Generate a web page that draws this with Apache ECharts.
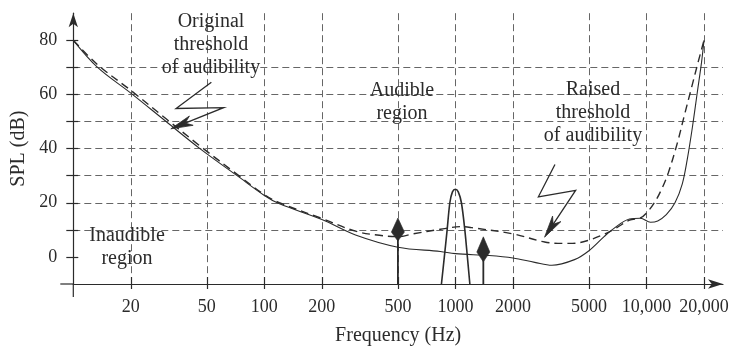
<!DOCTYPE html>
<html>
<head>
<meta charset="utf-8">
<script src="https://cdn.jsdelivr.net/npm/echarts@6/dist/echarts.min.js"></script>
<style>
  html, body { margin: 0; background: #fff; }
  #chart { width: 732px; height: 351px; }
</style>
</head>
<body>
<div id="chart"></div>
<script>
// axis ticks
const freqTicks = [20, 50, 100, 200, 500, 1000, 2000, 5000, 10000, 20000];
const splTicks = [0, 10, 20, 30, 40, 50, 60, 70, 80];
const splLabels = [0, 20, 40, 60, 80];

// original threshold of audibility (solid)
const originalFreq = [10, 13.4, 20, 30.6, 46, 72, 100, 120, 200, 300, 500, 834, 1000, 1500, 2000, 2600, 3200, 4200, 5000, 6000, 6600, 8150, 9300, 10500, 11450, 12700, 14100, 15400, 16400, 17460, 18470, 19430, 20000];
const originalSpl = [80, 70, 60.5, 50, 40, 30, 22.7, 19.6, 13.8, 8.1, 3.6, 2, 1.2, 0.5, -0.4, -2, -3.1, -1, 2.3, 7.5, 10, 14, 14.3, 12.8, 13.3, 15.6, 20, 27, 36.6, 48.7, 61, 72, 80];

// raised threshold of audibility (dashed)
const raisedFreq = [10, 13.4, 20, 30.6, 46, 72, 100, 120, 200, 300, 400, 500, 600, 834, 1073, 1220, 2000, 2930, 3650, 4100, 5000, 6060, 7000, 8150, 9300, 10000, 11000, 12000, 13000, 14500, 15750, 17140, 18650, 20000];
const raisedSpl = [80, 71, 61.5, 51, 41, 30.5, 23, 20, 14.2, 9.5, 8, 7.5, 8.5, 10.2, 11.2, 10.8, 8.5, 5.5, 5, 5, 6.2, 8.5, 10.8, 13.6, 14.4, 16.2, 20, 25, 31, 42, 52, 62, 72, 80];

// narrowband masker around 1 kHz
const maskerFreq = [845, 875, 905, 935, 965, 1000, 1035, 1075, 1120, 1155, 1190];
const maskerSpl = [-10, 0, 10, 20, 24, 25, 24, 20, 10, 0, -10];

// tones (kite centre level)
const toneFreq = [500, 1400];
const toneSpl = [10.1, 2.8];
const toneHeight = [23, 25];

// lightning pointers [freq, dB]
const boltOriginal = [[52.8, 64.5], [34.5, 54.8], [61.2, 55.1], [32.4, 47.3]];
const boltRaised = [[3319, 34.1], [2718, 22.2], [4259, 24.6], [2929, 7.3]];

const ink = "#2b2b2b";
const gridColor = "#666";
const font = '"Liberation Serif", "DejaVu Serif", serif';

const pair = (xs, ys) => xs.map((x, i) => [x, ys[i]]);
const withCommas = (v) => (v >= 10000 ? String(v).replace(/\B(?=(\d{3})+(?!\d))/g, ",") : String(v));

const chart = echarts.init(document.getElementById("chart"), null, { renderer: "canvas" });

const xCommon = {
  type: "log",
  logBase: 10,
  min: 10,
  max: 25150,
  position: "bottom",
};
const yCommon = {
  type: "value",
  min: -10,
  max: 90,
  interval: 10,
  position: "left",
};

const series = [
  {
    name: "original",
    type: "line",
    data: pair(originalFreq, originalSpl),
    smooth: 0.35,
    showSymbol: false,
    lineStyle: { color: ink, width: 1.1 },
    z: 5,
  },
  {
    name: "raised",
    type: "line",
    data: pair(raisedFreq, raisedSpl),
    smooth: 0.35,
    showSymbol: false,
    lineStyle: { color: ink, width: 1.4, type: [8, 5] },
    z: 4,
  },
  {
    name: "masker",
    type: "line",
    data: pair(maskerFreq, maskerSpl),
    smooth: 0.3,
    showSymbol: false,
    lineStyle: { color: ink, width: 1.6 },
    z: 5,
  },
];

toneFreq.forEach((f, i) => {
  series.push({
    type: "line",
    data: [[f, -10], [f, toneSpl[i]]],
    showSymbol: false,
    lineStyle: { color: ink, width: 1.8 },
    z: 6,
  });
  series.push({
    type: "scatter",
    data: [[f, toneSpl[i]]],
    symbol: "path://M6 0 L12 14 L6 23 L0 14 Z",
    symbolSize: [13, toneHeight[i]],
    symbolKeepAspect: false,
    itemStyle: { color: ink, opacity: 1, borderColor: ink, borderWidth: 0.6 },
    z: 7,
  });
});

chart.setOption({
  backgroundColor: "#fff",
  animation: false,
  textStyle: { fontFamily: font, color: ink },
  grid: { left: 73.3, right: 9, top: 13.2, bottom: 62.8 },
  xAxis: [
    {
      ...xCommon,
      name: "Frequency (Hz)",
      nameLocation: "middle",
      nameGap: 42,
      nameTextStyle: { fontFamily: font, fontSize: 20, color: ink },
      axisLine: { onZero: false, lineStyle: { color: ink, width: 1.2 }, symbol: ["none", "arrow"], symbolSize: [7, 15] },
      axisTick: { customValues: freqTicks, inside: true, length: 7, lineStyle: { color: ink, width: 1.2 } },
      axisLabel: {
        customValues: freqTicks,
        margin: 14,
        fontFamily: font,
        fontSize: 18,
        color: ink,
        formatter: withCommas,
      },
      splitLine: { show: true, lineStyle: { color: gridColor, width: 1, type: [7, 4] } },
    },
    {
      ...xCommon,
      axisLine: { show: false, onZero: false },
      axisTick: { customValues: freqTicks, inside: false, length: 5, lineStyle: { color: ink, width: 1.2 } },
      axisLabel: { show: false },
      splitLine: { show: false },
    },
  ],
  yAxis: [
    {
      ...yCommon,
      name: "SPL (dB)",
      nameLocation: "middle",
      nameGap: 43,
      nameTextStyle: { fontFamily: font, fontSize: 20, color: ink },
      axisLine: { onZero: false, lineStyle: { color: ink, width: 1.2 }, symbol: ["none", "arrow"], symbolSize: [7, 14] },
      axisTick: { customValues: splTicks, inside: false, length: 7, lineStyle: { color: ink, width: 1.2 } },
      axisLabel: { customValues: splLabels, margin: 16, fontFamily: font, fontSize: 18, color: ink },
      splitLine: { show: true, showMinLine: false, showMaxLine: false, lineStyle: { color: gridColor, width: 1, type: [7, 4] } },
    },
    {
      ...yCommon,
      axisLine: { show: false, onZero: false },
      axisTick: { customValues: splTicks, inside: true, length: 5, lineStyle: { color: ink, width: 1.2 } },
      axisLabel: { show: false },
      splitLine: { show: false },
    },
  ],
  series,
});

// annotations drawn from data coordinates
const toPx = (p) => chart.convertToPixel({ xAxisIndex: 0, yAxisIndex: 0 }, p);

function bolt(points) {
  const px = points.map(toPx);
  const tip = px[px.length - 1];
  const prev = px[px.length - 2];
  const dx = tip[0] - prev[0];
  const dy = tip[1] - prev[1];
  const len = Math.hypot(dx, dy);
  const ux = dx / len;
  const uy = dy / len;
  const nx = -uy;
  const ny = ux;
  const L = 22;
  const W = 5;
  const neck = [tip[0] - ux * L * 0.7, tip[1] - uy * L * 0.7];
  const line = px.slice(0, -1).concat([neck]);
  return [
    {
      type: "polyline",
      shape: { points: line },
      style: { stroke: ink, lineWidth: 1.3, fill: null },
      z: 20,
    },
    {
      type: "polygon",
      shape: {
        points: [
          tip,
          [tip[0] - ux * L + nx * W, tip[1] - uy * L + ny * W],
          neck,
          [tip[0] - ux * L - nx * W, tip[1] - uy * L - ny * W],
        ],
      },
      style: { fill: ink, stroke: ink, lineWidth: 0.8 },
      z: 20,
    },
  ];
}

function label(text, x, y) {
  return {
    type: "text",
    x,
    y,
    style: {
      text,
      fontFamily: font,
      fontSize: 20,
      lineHeight: 23,
      fill: ink,
      align: "center",
      verticalAlign: "middle",
    },
    z: 30,
  };
}

const corner = toPx([10, -10]);

chart.setOption({
  graphic: [
    {
      type: "line",
      shape: { x1: corner[0] - 13, y1: corner[1], x2: corner[0], y2: corner[1] },
      style: { stroke: ink, lineWidth: 1.2 },
    },
    {
      type: "line",
      shape: { x1: corner[0], y1: corner[1], x2: corner[0], y2: corner[1] + 13 },
      style: { stroke: ink, lineWidth: 1.2 },
    },
    ...bolt(boltOriginal),
    ...bolt(boltRaised),
    label("Original\nthreshold\nof audibility", 211, 45),
    label("Audible\nregion", 402, 102),
    label("Raised\nthreshold\nof audibility", 593, 113),
    label("Inaudible\nregion", 127, 247),
  ],
});
</script>
</body>
</html>
